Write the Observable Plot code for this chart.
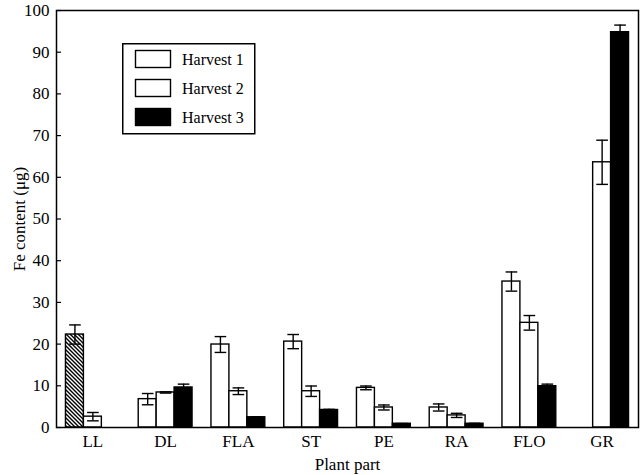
<!DOCTYPE html>
<html>
<head>
<meta charset="utf-8">
<script src="https://cdn.jsdelivr.net/npm/d3@7"></script>
<script src="https://cdn.jsdelivr.net/npm/@observablehq/plot@0.6"></script>
<style>
  html, body { margin: 0; padding: 0; background: #fff; }
  #wrap { position: relative; width: 640px; height: 475px; font-family: "Liberation Serif", "Times New Roman", serif; }
  #legend { position: absolute; left: 122px; top: 43px; }
</style>
</head>
<body>
<div id="wrap"></div>
<script>
// ---- data ----
const parts = ["LL", "DL", "FLA", "ST", "PE", "RA", "FLO", "GR"];
const harvests = ["Harvest 1", "Harvest 2", "Harvest 3"];
const h1 = [22.3, 6.8, 19.9, 20.6, 9.5, 4.8, 35.0, null];
const h1err = [2.3, 1.35, 1.9, 1.7, 0.45, 0.85, 2.3, null];
const h2 = [2.6, 8.4, 8.7, 8.7, 4.8, 2.9, 25.1, 63.6];
const h2err = [1.0, 0.15, 0.8, 1.25, 0.6, 0.5, 1.75, 5.3];
const h3 = [null, 9.6, 2.45, 4.2, 0.9, 0.9, 9.9, 94.8];
const h3err = [null, 0.8, 0.1, 0.15, 0.05, 0.1, 0.5, 1.7];
const harvestFill = ["white", "white", "black"];
const yTicks = [0, 10, 20, 30, 40, 50, 60, 70, 80, 90, 100];

// ---- table ----
const bandW = 0.74; // fraction of a category step used by the 3 bars
const series = [[h1, h1err], [h2, h2err], [h3, h3err]];
const rows = [];
parts.forEach((p, c) => {
  series.forEach(([vals, errs], h) => {
    const v = vals[c];
    if (v == null) return;
    const x1 = c - bandW / 2 + h * bandW / 3;
    rows.push({
      part: p, harvest: harvests[h], value: v, err: errs[c] || 0,
      x1, x2: x1 + bandW / 3, xc: x1 + bandW / 6,
      fill: (p === "LL" && h === 0) ? "url(#hatch)" : harvestFill[h]
    });
  });
});
const capHalf = 0.08;
const serif = '"Liberation Serif", "Times New Roman", serif';

const chart = Plot.plot({
  width: 640,
  height: 475,
  marginLeft: 56,
  marginRight: 2,
  marginTop: 10,
  marginBottom: 48,
  style: { fontFamily: serif, fontSize: "17px", color: "black", background: "white" },
  x: { type: "linear", domain: [-0.5, 7.5] },
  y: { domain: [0, 100] },
  marks: [
    Plot.rect(rows, { x1: "x1", x2: "x2", y1: 0, y2: "value", fill: "fill", stroke: "black", strokeWidth: 1.4 }),
    Plot.ruleX(rows.filter(d => d.err > 0), { x: "xc", y1: d => d.value - d.err, y2: d => d.value + d.err, stroke: "black", strokeWidth: 1.4 }),
    Plot.link(rows.filter(d => d.err > 0), { x1: d => d.xc - capHalf, x2: d => d.xc + capHalf, y1: d => d.value + d.err, y2: d => d.value + d.err, stroke: "black", strokeWidth: 1.4 }),
    Plot.link(rows.filter(d => d.err > 0), { x1: d => d.xc - capHalf, x2: d => d.xc + capHalf, y1: d => d.value - d.err, y2: d => d.value - d.err, stroke: "black", strokeWidth: 1.4 }),
    Plot.axisY({ ticks: yTicks, tickSize: -5, tickPadding: 12, strokeWidth: 1.2, fontSize: 17, label: "Fe content (μg)", labelAnchor: "center", labelArrow: false, labelOffset: 44, fill: "black" }),
    Plot.axisX({ ticks: d3.range(parts.length), tickFormat: i => parts[i], tickSize: 0, tickPadding: 7, fontSize: 17, label: "Plant part", labelAnchor: "center", labelArrow: false, labelOffset: 42, fill: "black" }),
    Plot.frame({ stroke: "black", strokeWidth: 1.5 })
  ]
});

// hatch pattern for LL harvest 1
const svg = d3.select(chart);
const defs = svg.insert("defs", ":first-child");
const pat = defs.append("pattern").attr("id", "hatch").attr("patternUnits", "userSpaceOnUse")
  .attr("width", 4).attr("height", 4);
pat.append("rect").attr("width", 4).attr("height", 4).attr("fill", "white");
pat.append("path").attr("d", "M-1,-1L5,5M-1,3L1,5M3,-1L5,1").attr("stroke", "black").attr("stroke-width", 1.4);

const wrap = document.getElementById("wrap");
wrap.appendChild(chart);

// legend (drawn inside the plot area, top-left)
const lg = d3.create("svg").attr("id", "legend").attr("width", 134).attr("height", 92);
lg.append("rect").attr("x", 0.75).attr("y", 0.75).attr("width", 132).attr("height", 90)
  .attr("fill", "white").attr("stroke", "black").attr("stroke-width", 1.5);
harvests.forEach((h, i) => {
  const g = lg.append("g").attr("transform", `translate(0,${i * 29})`);
  g.append("rect").attr("x", 13.5).attr("y", 7.5).attr("width", 35).attr("height", 17)
    .attr("fill", harvestFill[i]).attr("stroke", "black").attr("stroke-width", 1.4);
  g.append("text").attr("x", 60).attr("y", 16).attr("dy", "0.35em")
    .attr("font-family", serif).attr("font-size", 16)
    .attr("fill", "black").text(h);
});
wrap.appendChild(lg.node());
</script>
</body>
</html>
